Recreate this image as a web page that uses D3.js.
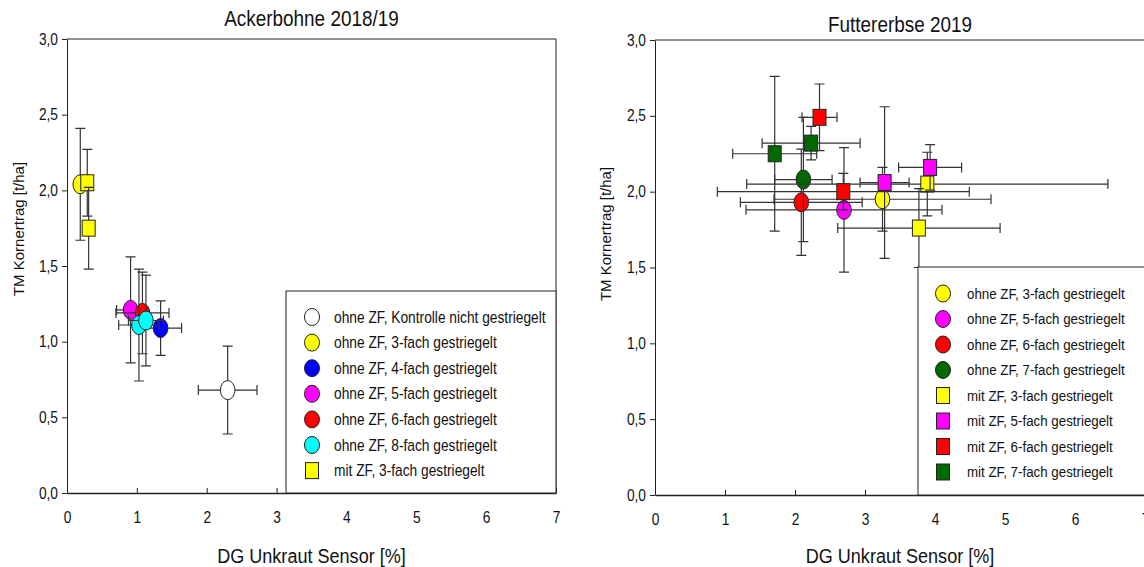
<!DOCTYPE html>
<meta charset="utf-8">
<head>
  <style>
    body { margin: 0; background: #fff; }
    svg text { font-family: "Liberation Sans", Arial, sans-serif; fill: #111; }
    svg .ylab { font-size: 15px; }
    svg .tick text { font-size: 16px; }
    svg .domain, svg .tick line { stroke: #222; }
    svg .err { stroke: #333; stroke-width: 1.2px; fill: none; }
    svg .mark { stroke: #222; stroke-width: 1px; }
  </style>
</head>
<body>
<script src="https://cdnjs.cloudflare.com/ajax/libs/d3/7.8.5/d3.min.js"></script>
<script>
// axis ticks
var xTicks = [0, 1, 2, 3, 4, 5, 6, 7];
var yTicks = [0, 0.5, 1, 1.5, 2, 2.5, 3];

// Ackerbohne 2018/19
var ackerLabels = [
  "ohne ZF, Kontrolle nicht gestriegelt",
  "ohne ZF, 3-fach gestriegelt",
  "ohne ZF, 4-fach gestriegelt",
  "ohne ZF, 5-fach gestriegelt",
  "ohne ZF, 6-fach gestriegelt",
  "ohne ZF, 8-fach gestriegelt",
  "mit ZF, 3-fach gestriegelt"
];
var ackerColors = ["#ffffff", "#ffff00", "#0000ff", "#ff00ff", "#ff0000", "#00ffff", "#ffff00"];
var ackerShapes = ["circle", "circle", "circle", "circle", "circle", "circle", "square"];
// [series, x, y, x error, y error]
var ackerPoints = [
  [0, 2.30, 0.68, 0.42, 0.29],
  [1, 0.19, 2.04, 0.05, 0.37],
  [2, 1.34, 1.09, 0.30, 0.18],
  [3, 0.91, 1.21, 0.20, 0.35],
  [4, 1.08, 1.19, 0.38, 0.27],
  [5, 1.03, 1.11, 0.29, 0.37],
  [5, 1.13, 1.14, 0.25, 0.30],
  [6, 0.29, 2.05, 0.05, 0.22],
  [6, 0.31, 1.75, 0.05, 0.27]
];

// Futtererbse 2019
var erbseLabels = [
  "ohne ZF, 3-fach gestriegelt",
  "ohne ZF, 5-fach gestriegelt",
  "ohne ZF, 6-fach gestriegelt",
  "ohne ZF, 7-fach gestriegelt",
  "mit ZF, 3-fach gestriegelt",
  "mit ZF, 5-fach gestriegelt",
  "mit ZF, 6-fach gestriegelt",
  "mit ZF, 7-fach gestriegelt"
];
var erbseColors = ["#ffff00", "#ff00ff", "#ff0000", "#006a00", "#ffff00", "#ff00ff", "#ff0000", "#006a00"];
var erbseShapes = ["circle", "circle", "circle", "circle", "square", "square", "square", "square"];
var erbsePoints = [
  [0, 3.25, 1.95, 1.55, 0.21],
  [1, 2.70, 1.88, 1.40, 0.41],
  [2, 2.09, 1.93, 0.87, 0.35],
  [3, 2.12, 2.08, 0.41, 0.41],
  [4, 3.89, 2.05, 2.58, 0.21],
  [4, 3.77, 1.76, 1.16, 0.26],
  [5, 3.93, 2.16, 0.45, 0.15],
  [5, 3.28, 2.06, 0.35, 0.50],
  [6, 2.35, 2.49, 0.25, 0.22],
  [6, 2.69, 2.00, 1.80, 0.12],
  [7, 1.71, 2.25, 0.60, 0.51],
  [7, 2.23, 2.32, 0.70, 0.11]
];

var svg = d3.select("body").append("svg")
    .attr("width", 1144)
    .attr("height", 567);

var fmt = function(d) { return d3.format(".1f")(d).replace(".", ","); };

// the original picture is squeezed sideways, so narrow the glyphs
// (scale about the text's own x so the anchor stays put)
function squeeze(sel, k) {
  sel.each(function() {
    var ax = +this.getAttribute("x") || 0;
    d3.select(this).attr("transform", "translate(" + ax * (1 - k) + ",0) scale(" + k + ",1)");
  });
}

function drawPanel(p) {
  var x = d3.scaleLinear().domain([0, 7]).range([p.left, p.right]);
  var y = d3.scaleLinear().domain([0, 3]).range([p.bottom, p.top]);
  var g = svg.append("g");

  // frame top and right
  g.append("path")
      .attr("d", "M" + x(0) + "," + y(3) + "H" + x(7) + "V" + y(0))
      .style("stroke", "#222").style("fill", "none").style("stroke-width", "1px");

  g.append("g")
      .attr("transform", "translate(0," + y(0) + ")")
      .call(d3.axisBottom(x).tickValues(xTicks).tickFormat(d3.format("d"))
        .tickSize(-5).tickSizeOuter(0).tickPadding(19))
      .call(function(a) { a.select(".domain").style("stroke-width", "1.5px"); })
      .selectAll("text").attr("dy", "0.71em");

  g.append("g")
      .attr("transform", "translate(" + x(0) + ",0)")
      .call(d3.axisLeft(y).tickValues(yTicks).tickFormat(fmt).tickSize(5).tickSizeOuter(0).tickPadding(4));

  // markers and error bars, series by series
  var cap = 5;
  p.points.forEach(function(d) {
    var cx = x(d[1]), cy = y(d[2]);
    var x0 = x(d[1] - d[3]), x1 = x(d[1] + d[3]);
    var y0 = y(d[2] - d[4]), y1 = y(d[2] + d[4]);
    g.append("path").classed("err", true)
        .attr("d", "M" + x0 + "," + cy + "H" + x1 +
                   "M" + x0 + "," + (cy - cap) + "V" + (cy + cap) +
                   "M" + x1 + "," + (cy - cap) + "V" + (cy + cap) +
                   "M" + cx + "," + y0 + "V" + y1 +
                   "M" + (cx - cap) + "," + y0 + "H" + (cx + cap) +
                   "M" + (cx - cap) + "," + y1 + "H" + (cx + cap));
    marker(g, p.shapes[d[0]], cx, cy, p.colors[d[0]], 7.3, 9.5);
  });

  // legend
  var lg = g.append("g");
  lg.append("rect")
      .attr("x", p.legend[0]).attr("y", p.legend[1])
      .attr("width", p.legend[2]).attr("height", p.legend[3])
      .style("fill", "#fff").style("stroke", "#222").style("stroke-width", "1px");
  p.labels.forEach(function(t, i) {
    var ly = p.legend[1] + p.legendFirst + i * p.legendStep;
    marker(lg, p.shapes[i], p.legend[0] + p.symX, ly, p.colors[i], 7.5, 8.5);
    lg.append("text").classed("sq", true)
        .attr("x", p.legend[0] + p.textX).attr("y", ly).attr("dy", "0.35em")
        .style("font-size", p.legendFont + "px")
        .text(t);
  });

  // titles
  g.append("text").classed("sq", true)
      .attr("x", (x(0) + x(7)) / 2).attr("y", p.titleY)
      .style("text-anchor", "middle").style("font-size", "22px")
      .text(p.title);
  g.append("text").classed("sq", true)
      .attr("x", (x(0) + x(7)) / 2).attr("y", 563)
      .style("text-anchor", "middle").style("font-size", "21px")
      .text("DG Unkraut Sensor [%]");
  g.append("text").classed("ylab", true)
      .attr("transform", "translate(" + p.ylabX + "," + p.ylabY + ") rotate(-90)")
      .style("text-anchor", "middle")
      .text("TM Kornertrag [t/ha]");

  squeeze(g.selectAll("text.sq, .tick text"), 0.86);
}

function marker(sel, shape, cx, cy, fill, rx, ry) {
  if (shape === "circle") {
    sel.append("ellipse").classed("mark", true)
        .attr("cx", cx).attr("cy", cy).attr("rx", rx).attr("ry", ry)
        .style("fill", fill);
  } else {
    sel.append("rect").classed("mark", true)
        .attr("x", cx - 6.5).attr("y", cy - 8).attr("width", 13).attr("height", 16)
        .style("fill", fill);
  }
}

drawPanel({
  left: 67, right: 556, top: 39, bottom: 493,
  points: ackerPoints, labels: ackerLabels, colors: ackerColors, shapes: ackerShapes,
  legend: [286, 291, 270, 202], legendFirst: 26, legendStep: 25.6, symX: 26, textX: 48, legendFont: 16,
  title: "Ackerbohne 2018/19", titleY: 26, ylabX: 24, ylabY: 229
});

drawPanel({
  left: 655, right: 1145, top: 40, bottom: 495,
  points: erbsePoints, labels: erbseLabels, colors: erbseColors, shapes: erbseShapes,
  legend: [918, 267, 240, 228], legendFirst: 26.5, legendStep: 25.5, symX: 25, textX: 49, legendFont: 15.5,
  title: "Futtererbse 2019", titleY: 32, ylabX: 611, ylabY: 234
});
</script>
</body>
</html>
